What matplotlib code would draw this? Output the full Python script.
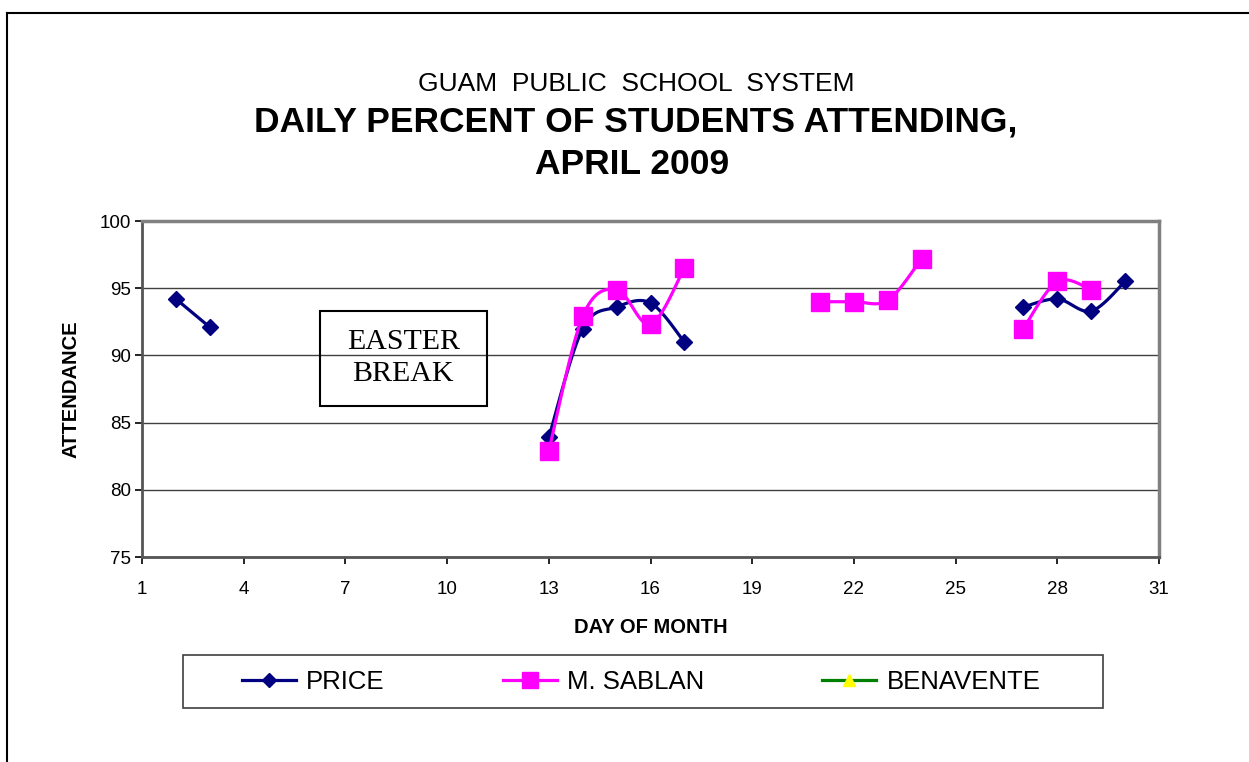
import numpy as np
import matplotlib
matplotlib.use("Agg")
import matplotlib.pyplot as plt
from matplotlib.lines import Line2D
from matplotlib.patches import Rectangle

# ---- data ----
days = list(range(1, 31))
nan = np.nan
price = {2: 94.2, 3: 92.1, 13: 83.9, 14: 92.0, 15: 93.6, 16: 93.9, 17: 91.0,
         27: 93.6, 28: 94.2, 29: 93.3, 30: 95.5}
sablan = {13: 82.9, 14: 92.9, 15: 94.9, 16: 92.3, 17: 96.5,
          21: 94.0, 22: 94.0, 23: 94.1, 24: 97.2,
          27: 92.0, 28: 95.5, 29: 94.9}
benavente = {}
price_vals = [price.get(d, nan) for d in days]
sablan_vals = [sablan.get(d, nan) for d in days]
benavente_vals = [benavente.get(d, nan) for d in days]

series_names = ["PRICE", "M. SABLAN", "BENAVENTE"]
xticks = list(range(1, 32, 3))
yticks = list(range(75, 101, 5))

plt.rcParams['font.family'] = ['Liberation Sans', 'DejaVu Sans']

W, H = 1249, 762
fig = plt.figure(figsize=(W / 100, H / 100), dpi=100)
L, R, T, B = 142, 1159, 221, 557
ax = fig.add_axes([L / W, 1 - B / H, (R - L) / W, (B - T) / H])


def smooth_segments(x, y, n=24):
    x = np.asarray(x, float)
    y = np.asarray(y, float)
    ok = np.isfinite(y)
    segs = []
    cur = []
    for xi, yi, oi in zip(x, y, ok):
        if oi:
            cur.append((xi, yi))
        else:
            if cur:
                segs.append(np.array(cur))
            cur = []
    if cur:
        segs.append(np.array(cur))
    out = []
    for P in segs:
        m = len(P)
        if m == 1:
            out.append(P)
            continue
        pts = []
        for i in range(m - 1):
            p0 = P[i - 1] if i > 0 else P[i]
            p1 = P[i]
            p2 = P[i + 1]
            p3 = P[i + 2] if i + 2 < m else P[i + 1]
            c1 = p1 + (p2 - p0) / 6.0
            c2 = p2 - (p3 - p1) / 6.0
            t = np.linspace(0, 1, n)[:, None]
            b = ((1 - t) ** 3) * p1 + 3 * ((1 - t) ** 2) * t * c1 + 3 * (1 - t) * t ** 2 * c2 + t ** 3 * p2
            pts.append(b if i == 0 else b[1:])
        out.append(np.vstack(pts))
    return out


styles = [
    dict(color="#000080", marker="D", mfc="#000080", mec="#000080", ms=8.5),
    dict(color="#FF00FF", marker="s", mfc="#FF00FF", mec="#FF00FF", ms=13),
    dict(color="#008000", marker="^", mfc="#FFFF00", mec="#FFFF00", ms=10),
]
data = [price_vals, sablan_vals, benavente_vals]
handles = []
for k, (vals, st) in enumerate(zip(data, styles)):
    for seg in smooth_segments(days, vals):
        ax.plot(seg[:, 0], seg[:, 1], color=st["color"], lw=2.3, zorder=3 + k)
    ax.plot(days, vals, ls="none", marker=st["marker"], ms=st["ms"],
            mfc=st["mfc"], mec=st["mec"], zorder=4 + k)
    handles.append(Line2D([0], [0], color=st["color"], lw=2.3, marker=st["marker"],
                          ms=st["ms"] * 0.85, mfc=st["mfc"], mec=st["mec"]))

ax.set_xlim(1, 31)
ax.set_ylim(75, 100)
ax.set_xticks(xticks)
ax.set_yticks(yticks)
ax.tick_params(axis="both", direction="out", length=5, width=1.2, color="black",
               labelsize=13.5)
ax.tick_params(axis="x", pad=12)
ax.tick_params(axis="y", pad=3)
ax.yaxis.grid(True, color="#404040", lw=1)
ax.set_axisbelow(True)
for s in ["top", "right"]:
    ax.spines[s].set_color("#808080")
    ax.spines[s].set_linewidth(2.5)
for s in ["left", "bottom"]:
    ax.spines[s].set_color("#555555")
    ax.spines[s].set_linewidth(2.0)

ax.set_xlabel("DAY OF MONTH", fontsize=14.5, fontweight="bold", labelpad=15)
ax.set_ylabel("ATTENDANCE", fontsize=14.5, fontweight="bold", labelpad=14)

# Easter break box
ax.add_patch(Rectangle((6.24, 86.2), 11.18 - 6.24, 93.3 - 86.2, fill=False,
                       ec="black", lw=1.5, zorder=6))
ax.text((6.24 + 11.18) / 2, (86.2 + 93.3) / 2 + 0.05, "EASTER\nBREAK", ha="center",
        va="center", fontsize=21.5, family="Liberation Serif", linespacing=1.28, zorder=7)

# titles
fig.text(636 / W, 1 - 84 / H, "GUAM  PUBLIC  SCHOOL  SYSTEM", ha="center", va="center",
         fontsize=19)
fig.text(636 / W, 1 - 122 / H, "DAILY PERCENT OF STUDENTS ATTENDING,", ha="center",
         va="center", fontsize=25.5, fontweight="bold")
fig.text(632 / W, 1 - 164 / H, "APRIL 2009", ha="center", va="center", fontsize=25.5,
         fontweight="bold")

# legend
fig.patches.append(Rectangle((183 / W, 1 - 708 / H), (1103 - 183) / W, (708 - 655) / H,
                             transform=fig.transFigure, fill=False, ec="#404040", lw=1.2))
fig.legend(handles, series_names, loc="center", bbox_to_anchor=(641 / W, 1 - 682 / H),
           ncol=3, frameon=False, fontsize=18.5, handlelength=2.1, handletextpad=0.4,
           columnspacing=4.6)

# outer border
fig.add_artist(Line2D([7 / W, 1], [1 - 13 / H, 1 - 13 / H], transform=fig.transFigure,
                      color="black", lw=1.5))
fig.add_artist(Line2D([7 / W, 7 / W], [0, 1 - 13 / H], transform=fig.transFigure,
                      color="black", lw=1.5))

fig.savefig("out.png", dpi=100)
